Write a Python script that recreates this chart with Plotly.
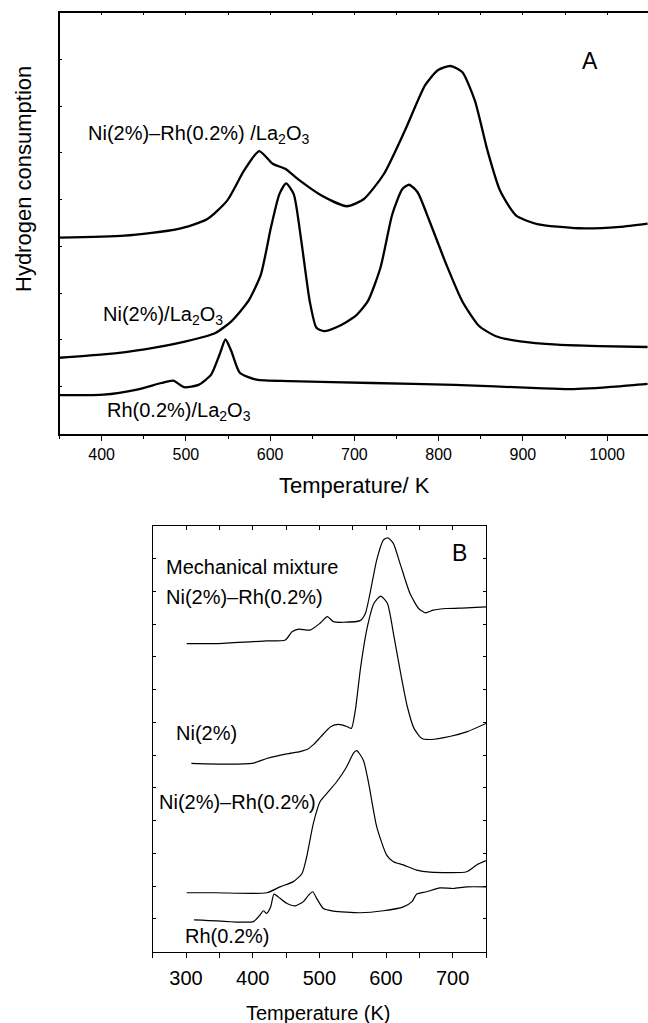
import plotly.graph_objects as go

W, H = 648, 1023
FONT = "Liberation Sans, Arial, Helvetica, sans-serif"

# ---------------- Panel A data (Temperature / K, arbitrary units) ----------------
a_nirh_T = [350, 427, 490, 525, 549, 569, 587, 603, 618, 633, 661, 691, 711, 735, 760, 784, 799, 814, 828, 843, 858, 873, 892, 917, 966, 1015, 1048]
a_nirh_v = [4.19, 4.23, 4.37, 4.58, 4.98, 5.62, 6.04, 5.77, 5.66, 5.44, 5.09, 4.86, 5.01, 5.55, 6.48, 7.45, 7.77, 7.86, 7.73, 7.12, 6.05, 5.19, 4.66, 4.48, 4.39, 4.42, 4.49]

a_ni_T = [350, 402, 451, 500, 535, 554, 574, 589, 601, 611, 619, 628, 637, 647, 655, 664, 682, 701, 716, 731, 745, 757, 765, 775, 789, 809, 828, 848, 868, 897, 941, 990, 1048]
a_ni_v = [1.62, 1.69, 1.80, 1.97, 2.15, 2.40, 2.83, 3.40, 4.41, 5.12, 5.35, 5.12, 4.12, 2.83, 2.26, 2.19, 2.30, 2.51, 2.83, 3.55, 4.69, 5.23, 5.32, 5.16, 4.55, 3.62, 2.83, 2.30, 2.08, 1.97, 1.90, 1.87, 1.85]

a_rh_T = [350, 402, 442, 471, 485, 498, 515, 530, 540, 547, 554, 564, 584, 623, 721, 819, 917, 956, 1015, 1048]
a_rh_v = [0.82, 0.83, 0.94, 1.08, 1.13, 0.99, 1.04, 1.26, 1.69, 2.01, 1.76, 1.30, 1.15, 1.12, 1.08, 1.04, 0.97, 0.95, 1.01, 1.06]

a_labels = ["Ni(2%)–Rh(0.2%) /La<sub>2</sub>O<sub>3</sub>", "Ni(2%)/La<sub>2</sub>O<sub>3</sub>", "Rh(0.2%)/La<sub>2</sub>O<sub>3</sub>"]
a_xticks = [400, 500, 600, 700, 800, 900, 1000]

# ---------------- Panel B data ----------------
b_mix_T = [301, 346, 401, 421, 449, 459, 469, 486, 501, 512, 521, 536, 561, 569, 576, 586, 596, 603, 611, 621, 636, 649, 659, 671, 691, 721, 750]
b_mix_v = [9.41, 9.41, 9.47, 9.49, 9.52, 9.77, 9.85, 9.82, 10.03, 10.23, 10.08, 10.06, 10.11, 10.33, 10.94, 11.96, 12.57, 12.64, 12.47, 11.86, 10.94, 10.48, 10.35, 10.43, 10.48, 10.50, 10.53]

b_ni_T = [308, 351, 399, 421, 451, 471, 482, 492, 502, 517, 529, 542, 548, 554, 562, 572, 582, 592, 602, 612, 622, 632, 642, 654, 667, 697, 722, 750]
b_ni_v = [5.75, 5.73, 5.75, 5.90, 6.04, 6.11, 6.18, 6.34, 6.56, 6.87, 6.94, 6.87, 6.82, 7.38, 8.70, 9.92, 10.64, 10.86, 10.64, 9.62, 8.50, 7.48, 6.82, 6.51, 6.48, 6.58, 6.72, 6.97]

b_nirh_T = [301, 346, 421, 441, 461, 474, 481, 491, 501, 511, 526, 541, 551, 556, 566, 574, 586, 601, 611, 626, 646, 666, 721, 736, 750]
b_nirh_v = [1.80, 1.80, 1.80, 1.98, 2.14, 2.39, 2.90, 3.92, 4.58, 4.83, 5.19, 5.65, 6.06, 6.14, 5.85, 5.14, 3.82, 2.95, 2.75, 2.65, 2.49, 2.43, 2.44, 2.65, 2.78]

b_rh_T = [312, 346, 401, 411, 416, 421, 427, 432, 441, 451, 464, 476, 484, 490, 496, 506, 521, 561, 596, 626, 639, 646, 661, 681, 701, 721, 750]
b_rh_v = [0.97, 0.94, 0.92, 1.12, 1.25, 1.17, 1.37, 1.76, 1.63, 1.48, 1.40, 1.53, 1.73, 1.83, 1.63, 1.32, 1.24, 1.19, 1.25, 1.37, 1.53, 1.76, 1.83, 1.95, 1.93, 1.98, 1.98]

b_labels = ["Mechanical mixture", "Ni(2%)–Rh(0.2%)", "Ni(2%)", "Ni(2%)–Rh(0.2%)", "Rh(0.2%)"]
b_xticks = [300, 400, 500, 600, 700]


def px(x):
    return x / W


def py(y):
    return 1 - y / H


fig = go.Figure()

for T, v in [(a_nirh_T, a_nirh_v), (a_ni_T, a_ni_v), (a_rh_T, a_rh_v)]:
    fig.add_trace(go.Scatter(x=T, y=v, mode="lines", xaxis="x", yaxis="y",
                             line=dict(color="black", width=2.3, shape="spline", smoothing=0.6),
                             showlegend=False, hoverinfo="skip"))

for T, v in [(b_mix_T, b_mix_v), (b_ni_T, b_ni_v), (b_nirh_T, b_nirh_v), (b_rh_T, b_rh_v)]:
    fig.add_trace(go.Scatter(x=T, y=v, mode="lines", xaxis="x2", yaxis="y2",
                             line=dict(color="black", width=1.2, shape="spline", smoothing=0.6),
                             showlegend=False, hoverinfo="skip"))

A_left, A_right, A_top, A_bot = 59.5, 648, 12.7, 433.5
B_left, B_right, B_top, B_bot = 152.7, 486, 526, 951.7

axis_common = dict(showgrid=False, zeroline=False, linecolor="black", tickcolor="black")

fig.update_layout(
    width=W, height=H, margin=dict(l=0, r=0, t=0, b=0),
    paper_bgcolor="white", plot_bgcolor="white",
    font=dict(family=FONT, color="black"),
    xaxis=dict(domain=[px(A_left), px(A_right)], range=[350, 1048.5], anchor="y",
               showline=True, linewidth=1.5, mirror=True,
               tickmode="array", tickvals=a_xticks, ticks="outside", ticklen=6, tickwidth=1.3,
               tickfont=dict(size=16), ticklabelstandoff=0,
               minor=dict(dtick=50, tick0=350, ticks="outside", ticklen=3.5, tickwidth=1.3, tickcolor="black"),
               **axis_common),
    yaxis=dict(domain=[py(A_bot), py(A_top)], range=[0, 9], anchor="x",
               showline=True, linewidth=1.5, mirror=False,
               dtick=1, tick0=0, ticks="inside", ticklen=3, tickwidth=1, showticklabels=False,
               **axis_common),
    xaxis3=dict(overlaying="x", side="top", range=[350, 1048.5], anchor="y",
                showline=False, dtick=50, tick0=350, ticks="inside", ticklen=2.5, tickwidth=1,
                showticklabels=False, **axis_common),
    xaxis2=dict(domain=[px(B_left), px(B_right)], range=[250, 750], anchor="y2",
                showline=True, linewidth=1.3, mirror=True,
                tickmode="array", tickvals=b_xticks, ticks="outside", ticklen=5, tickwidth=1,
                tickfont=dict(size=20), ticklabelstandoff=3,
                minor=dict(dtick=50, tick0=250, ticks="outside", ticklen=5, tickwidth=1, tickcolor="black"),
                **axis_common),
    yaxis2=dict(domain=[py(B_bot), py(B_top)], range=[0, 13], anchor="x2",
                showline=True, linewidth=1.3, mirror="ticks",
                dtick=1, tick0=0, ticks="inside", ticklen=3, tickwidth=1, showticklabels=False,
                **axis_common),
    xaxis4=dict(overlaying="x2", side="top", range=[250, 750], anchor="y2",
                showline=False, dtick=50, tick0=250, ticks="inside", ticklen=4, tickwidth=1,
                showticklabels=False, **axis_common),
)

# dummy traces so overlay axes are drawn
fig.add_trace(go.Scatter(x=[None], y=[None], xaxis="x3", yaxis="y", showlegend=False, hoverinfo="skip"))
fig.add_trace(go.Scatter(x=[None], y=[None], xaxis="x4", yaxis="y2", showlegend=False, hoverinfo="skip"))

ann = []


def text(x, y, s, size, xanchor="left", yanchor="middle", angle=0):
    ann.append(dict(x=px(x), y=py(y), xref="paper", yref="paper", text=s, showarrow=False,
                    xanchor=xanchor, yanchor=yanchor, textangle=angle,
                    font=dict(size=size, family=FONT, color="black")))


# Panel A texts
text(86, 134, a_labels[0], 20)
text(101, 316, a_labels[1], 20)
text(105, 411, a_labels[2], 20)
text(589.5, 61, "A", 23, xanchor="center")
text(354.7, 485, "Temperature/ K", 22, xanchor="center")
text(23, 179, "Hydrogen consumption", 22, xanchor="center", angle=-90)

# Panel B texts
text(164, 567, b_labels[0], 20)
text(164, 597, b_labels[1], 20)
text(174, 733, b_labels[2], 20)
text(157, 802, b_labels[3], 20)
text(183, 936, b_labels[4], 20)
text(459.5, 553, "B", 23, xanchor="center")
text(318, 1013, "Temperature (K)", 20, xanchor="center")

fig.update_layout(annotations=ann)

fig.write_html("out.html")
